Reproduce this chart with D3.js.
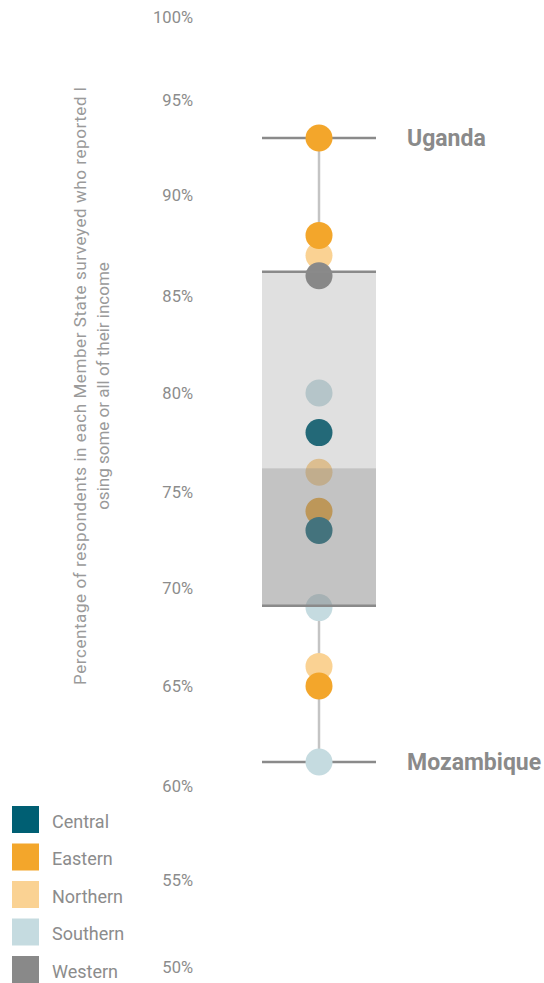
<!DOCTYPE html>
<html><head><meta charset="utf-8">
<script src="https://cdn.jsdelivr.net/npm/d3@7"></script>
<style>body{margin:0;background:#fff}svg{display:block}</style>
</head><body>
<script>
const regions = ["Central","Eastern","Northern","Southern","Western"];
const regionColors = ["#005f73","#f3a62b","#fad293","#c5dbe0","#898989"];
// points in drawing order
const pointValues  = [87,66,76,80,69,61.2,86,93,88,74,65,78,73];
const pointRegions = ["Northern","Northern","Northern","Southern","Southern","Southern","Western","Eastern","Eastern","Eastern","Eastern","Central","Central"];
const tickValues = [50,55,60,65,70,75,80,85,90,95,100];
const tickLabels = ["50%","55%","60%","65%","70%","75%","80%","85%","90%","95%","100%"];
const boxMin = 61.2, boxQ1 = 69.1, boxMedian = 76.2, boxQ3 = 86.2, boxMax = 93;
const extremeLabels = ["Uganda","Mozambique"];
const extremeValues = [93,61.2];
const titleLines = ["Percentage of respondents in each Member State surveyed who reported l","osing some or all of their income"];

const W = 544, H = 983;
const svg = d3.select("body").append("svg").attr("width",W).attr("height",H);
const y = d3.scaleLinear().domain(tickValues).range([967,880,786,686,588,492,393,296,195,100,17]);
const color = d3.scaleOrdinal().domain(regions).range(regionColors);
const cx = 319, bx0 = 262, bx1 = 376;
const font = "Roboto, 'Liberation Sans', sans-serif";

// y axis
const axis = d3.axisLeft(y).tickValues(tickValues).tickFormat((d,i)=>tickLabels[i]).tickSize(0).tickPadding(0);
const ag = svg.append("g").attr("transform","translate(193,0)").call(axis);
ag.select(".domain").remove();
ag.selectAll("text").attr("fill","#8c8c8c").attr("font-size",16.5).attr("font-family",font).attr("font-weight",400);

// axis title
const tg = svg.append("g").attr("transform","translate(91,386) rotate(-90)");
tg.selectAll("text").data(titleLines).join("text")
  .attr("x",0).attr("y",(d,i)=> -11 + i*23).attr("dy","0.35em")
  .attr("text-anchor","middle").attr("fill","#9a9a9a").attr("font-size",17).attr("font-family",font).attr("font-weight",400)
  .each(function(d,i){ if(i===0) d3.select(this).attr("textLength",598).attr("lengthAdjust","spacing"); })
  .text(d=>d);

// whiskers (outside the box)
svg.selectAll("line.wh").data([[boxMax,boxQ3],[boxQ1,boxMin]]).join("line").attr("class","wh")
  .attr("x1",cx).attr("x2",cx).attr("y1",d=>y(d[0])).attr("y2",d=>y(d[1]))
  .attr("stroke","#c4c4c4").attr("stroke-width",2.5);
svg.selectAll("line.cap").data([boxMax,boxMin]).join("line").attr("class","cap")
  .attr("x1",bx0).attr("x2",bx1).attr("y1",d=>y(d)).attr("y2",d=>y(d))
  .attr("stroke","#8a8a8a").attr("stroke-width",2.5);

// dots
svg.selectAll("circle.pt").data(pointValues).join("circle").attr("class","pt")
  .attr("cx",cx).attr("cy",d=>y(d)).attr("r",13.5)
  .attr("fill",(d,i)=>color(pointRegions[i]));

// box overlay
svg.append("rect").attr("x",bx0).attr("width",bx1-bx0).attr("y",y(boxQ3)).attr("height",y(boxMedian)-y(boxQ3))
  .attr("fill","#878787").attr("fill-opacity",0.26);
svg.append("rect").attr("x",bx0).attr("width",bx1-bx0).attr("y",y(boxMedian)).attr("height",y(boxQ1)-y(boxMedian))
  .attr("fill","#878787").attr("fill-opacity",0.5);
svg.selectAll("line.edge").data([boxQ3,boxQ1]).join("line").attr("class","edge")
  .attr("x1",bx0).attr("x2",bx1).attr("y1",d=>y(d)).attr("y2",d=>y(d))
  .attr("stroke","#8a8a8a").attr("stroke-width",2.5);

// extreme labels
svg.selectAll("text.ext").data(extremeLabels).join("text").attr("class","ext")
  .attr("x",407).attr("y",(d,i)=>y(extremeValues[i])).attr("dy","0.35em")
  .attr("fill","#8a8a8a").attr("font-size",23).attr("font-weight",700).attr("font-family",font)
  .text(d=>d);

// legend
const lg = svg.selectAll("g.leg").data(regions).join("g").attr("class","leg")
  .attr("transform",(d,i)=>`translate(12,${806 + i*37.5})`);
lg.append("rect").attr("width",27).attr("height",27).attr("fill",d=>color(d));
lg.append("text").attr("x",40).attr("y",15.5).attr("dy","0.35em")
  .attr("fill","#8c8c8c").attr("font-size",18).attr("font-family",font).attr("font-weight",400).text(d=>d);
</script>
</body></html>
